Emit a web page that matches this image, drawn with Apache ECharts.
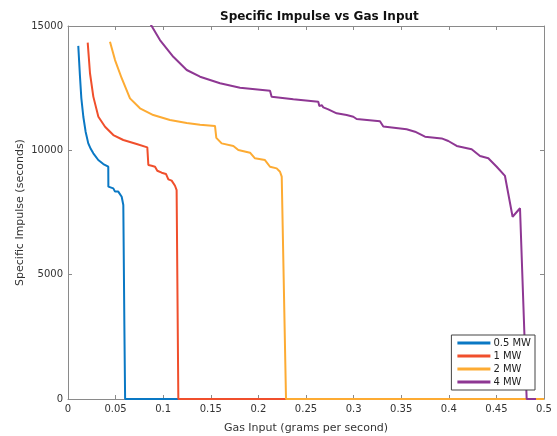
<!DOCTYPE html>
<html>
<head>
<meta charset="utf-8">
<script src="https://cdn.jsdelivr.net/npm/echarts@6/dist/echarts.min.js"></script>
<style>html,body{margin:0;padding:0;background:#fff}#c{width:557px;height:436px}</style>
</head>
<body>
<div id="c"></div>
<script>
const seriesNames = ['0.5 MW', '1 MW', '2 MW', '4 MW'];
const xTicks = [0, 0.05, 0.1, 0.15, 0.2, 0.25, 0.3, 0.35, 0.4, 0.45, 0.5];
const yTicks = [0, 5000, 10000, 15000];

const x05 = [0.0108, 0.0118, 0.0126, 0.0140, 0.0161, 0.0185, 0.0213, 0.0240, 0.0266, 0.0318, 0.0371, 0.0423, 0.0424, 0.0476, 0.0494, 0.0528, 0.0564, 0.0581, 0.0592, 0.0600, 0.12];
const y05 = [14200, 13500, 12960, 12100, 11350, 10750, 10280, 10050, 9880, 9610, 9450, 9340, 8540, 8470, 8340, 8340, 8135, 7800, 3000, 0, 0];

const x1 = [0.0207, 0.0231, 0.0266, 0.0319, 0.0389, 0.0476, 0.0581, 0.0721, 0.0833, 0.0844, 0.0879, 0.0914, 0.0938, 0.0984, 0.1029, 0.1054, 0.1089, 0.1124, 0.1141, 0.1159, 0.23];
const y1 = [14330, 13100, 12160, 11350, 10950, 10615, 10415, 10255, 10120, 9410, 9380, 9340, 9180, 9100, 9050, 8835, 8780, 8575, 8400, 0, 0];

const x2 = [0.0441, 0.0494, 0.0564, 0.0651, 0.0756, 0.0896, 0.1071, 0.1247, 0.1387, 0.1544, 0.1558, 0.1579, 0.1614, 0.1737, 0.1789, 0.1912, 0.1964, 0.2069, 0.2122, 0.2192, 0.2227, 0.2245, 0.2290, 0.5];
const y2 = [14370, 13630, 12900, 12090, 11690, 11420, 11220, 11100, 11030, 10980, 10500, 10440, 10280, 10175, 10015, 9905, 9680, 9610, 9340, 9275, 9140, 8940, 0, 0];

const x4 = [0.0770, 0.0966, 0.1106, 0.1247, 0.1387, 0.1597, 0.1807, 0.2122, 0.2139, 0.2367, 0.2629, 0.2640, 0.2665, 0.2682, 0.2734, 0.2822, 0.2927, 0.2997, 0.3032, 0.3277, 0.3312, 0.3557, 0.3645, 0.3750, 0.3925, 0.3995, 0.4083, 0.4240, 0.4328, 0.4415, 0.4503, 0.4590, 0.4670, 0.4748, 0.4818, 0.4916];
const y4 = [15700, 14435, 13760, 13230, 12960, 12700, 12520, 12400, 12156, 12050, 11955, 11780, 11820, 11730, 11650, 11490, 11420, 11350, 11260, 11170, 10960, 10845, 10750, 10550, 10480, 10375, 10175, 10040, 9770, 9680, 9340, 8970, 7330, 7670, 0, 0];

const colors = ['#0a78c4', '#f04f2c', '#fdab33', '#8e3793'];
const xs = [x05, x1, x2, x4];
const ys = [y05, y1, y2, y4];

const FONT = 'DejaVu Sans';
const axisGray = '#8a8a8a';
const labelColor = '#333';

const chart = echarts.init(document.getElementById('c'), null, {renderer: 'canvas'});
const fmtX = v => String(+v.toFixed(2));

const tick = {show: true, inside: true, length: 4, lineStyle: {color: axisGray, width: 1}};

const mainSeries = seriesNames.map((n, i) => ({
  name: n, type: 'line', xAxisIndex: 0, yAxisIndex: 0,
  data: xs[i].map((x, j) => [x, ys[i][j]]),
  showSymbol: false, symbol: 'none', clip: true,
  lineStyle: {color: colors[i], width: 2},
  itemStyle: {color: colors[i]}
}));
// empty series so that the box (top/right) axes are drawn
mainSeries.unshift({type: 'line', xAxisIndex: 1, yAxisIndex: 1, data: [], silent: true});

chart.setOption({
  animation: false,
  backgroundColor: '#fff',
  textStyle: {fontFamily: FONT},
  title: {
    text: 'Specific Impulse vs Gas Input',
    left: 215, top: 6,
    textStyle: {fontFamily: FONT, fontSize: 12, fontWeight: 'bold', color: '#111'}
  },
  grid: {left: 68, right: 13, top: 26, bottom: 37, containLabel: false, outerBoundsMode: 'none'},
  legend: {
    orient: 'vertical', right: 22, bottom: 46,
    data: seriesNames,
    icon: 'rect', itemWidth: 33, itemHeight: 3, itemGap: 3,
    padding: [3, 4, 3, 6],
    borderColor: '#444', borderWidth: 1, backgroundColor: '#fff',
    textStyle: {fontFamily: FONT, fontSize: 10, color: '#222', lineHeight: 10, padding: [0, 0, 0, -2]}
  },
  xAxis: [{
    type: 'value', min: 0, max: 0.5, interval: 0.05, position: 'bottom',
    name: 'Gas Input (grams per second)', nameLocation: 'middle', nameGap: 24,
    nameMoveOverlap: false,
    nameTextStyle: {fontFamily: FONT, fontSize: 11, color: labelColor},
    axisLine: {show: true, onZero: false, lineStyle: {color: axisGray, width: 1}},
    axisTick: tick,
    axisLabel: {fontFamily: FONT, fontSize: 10, color: labelColor, margin: 5, formatter: fmtX},
    splitLine: {show: false}
  }, {
    type: 'value', min: 0, max: 0.5, interval: 0.05, position: 'top',
    axisLine: {show: true, onZero: false, lineStyle: {color: axisGray, width: 1}},
    axisTick: tick,
    axisLabel: {show: false}, splitLine: {show: false}
  }],
  yAxis: [{
    type: 'value', min: 0, max: 15000, interval: 5000, position: 'left',
    name: 'Specific Impulse (seconds)', nameLocation: 'middle', nameGap: 42,
    nameMoveOverlap: false,
    nameTextStyle: {fontFamily: FONT, fontSize: 11, color: labelColor},
    axisLine: {show: true, onZero: false, lineStyle: {color: axisGray, width: 1}},
    axisTick: tick,
    axisLabel: {fontFamily: FONT, fontSize: 10, color: labelColor, margin: 5, formatter: v => String(v)},
    splitLine: {show: false}
  }, {
    type: 'value', min: 0, max: 15000, interval: 5000, position: 'right',
    axisLine: {show: true, onZero: false, lineStyle: {color: axisGray, width: 1}},
    axisTick: tick,
    axisLabel: {show: false}, splitLine: {show: false}
  }],
  series: mainSeries
});
</script>
</body>
</html>
